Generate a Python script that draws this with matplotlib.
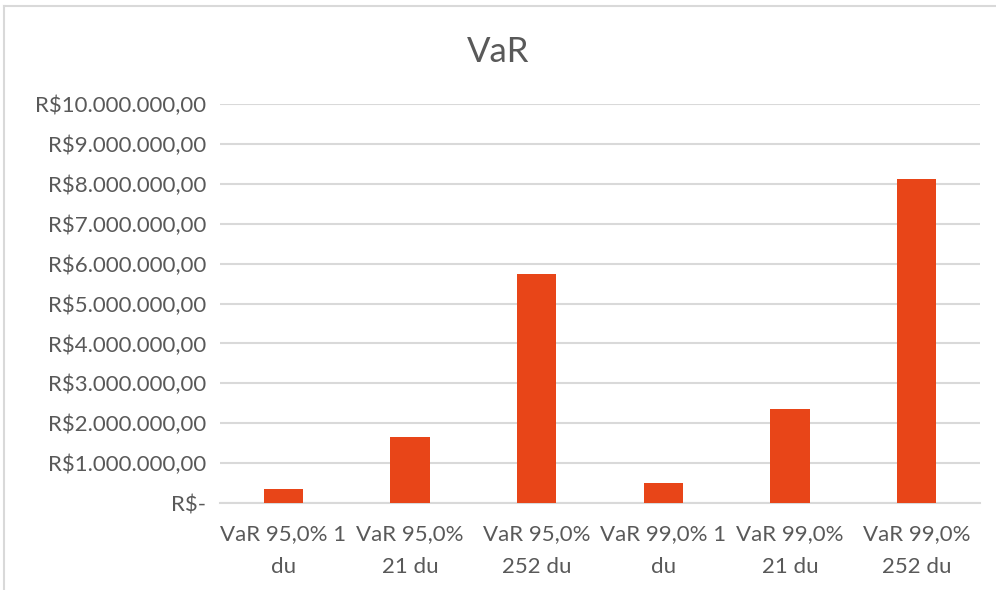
import matplotlib
matplotlib.use("Agg")
import matplotlib.pyplot as plt
from matplotlib.ticker import FuncFormatter, MultipleLocator
from matplotlib.lines import Line2D

categories = ["VaR 95,0% 1\ndu", "VaR 95,0%\n21 du", "VaR 95,0%\n252 du",
              "VaR 99,0% 1\ndu", "VaR 99,0%\n21 du", "VaR 99,0%\n252 du"]
values = [350000, 1660000, 5740000, 510000, 2360000, 8130000]
title = "VaR"

plt.rcParams['font.family'] = ['Lato', 'DejaVu Sans']
text_color = "#595959"
bar_color = "#E84518"
grid_color = "#D9D9D9"

fig = plt.figure(figsize=(9.96, 5.90), dpi=100)
ax = fig.add_axes([220/996, 1 - 503/590, (980-220)/996, (503-104)/590])

x = range(len(categories))
ax.bar(x, values, width=0.313, color=bar_color, zorder=3)
ax.set_xlim(-0.5, len(categories) - 0.5)
ax.set_ylim(0, 10000000)
ax.yaxis.set_major_locator(MultipleLocator(1000000))

def fmt(v, pos):
    if v == 0:
        return "R$-"
    s = f"{v:,.2f}".replace(",", "X").replace(".", ",").replace("X", ".")
    return "R$" + s

ax.yaxis.set_major_formatter(FuncFormatter(fmt))
ax.grid(axis='y', color=grid_color, linewidth=1.5, zorder=0)
for s in ['top', 'right', 'left']:
    ax.spines[s].set_visible(False)
ax.spines['bottom'].set_color(grid_color)
ax.spines['bottom'].set_linewidth(1.5)
ax.tick_params(axis='both', length=0, colors=text_color, labelsize=16)
ax.tick_params(axis='y', pad=10)
ax.tick_params(axis='x', pad=15)
ax.set_xticks(list(x))
ax.set_xticklabels(categories, linespacing=1.8)

fig.text(0.5, 1 - 52/590, title, ha='center', va='center', fontsize=25, color=text_color)

# chart area border
fig.add_artist(Line2D([4/996, 4/996], [0, 1 - 6/590], color="#D9D9D9", linewidth=1.5))
fig.add_artist(Line2D([4/996, 1], [1 - 6/590, 1 - 6/590], color="#D9D9D9", linewidth=1.5))

fig.savefig("out.png", dpi=100, facecolor="white")
